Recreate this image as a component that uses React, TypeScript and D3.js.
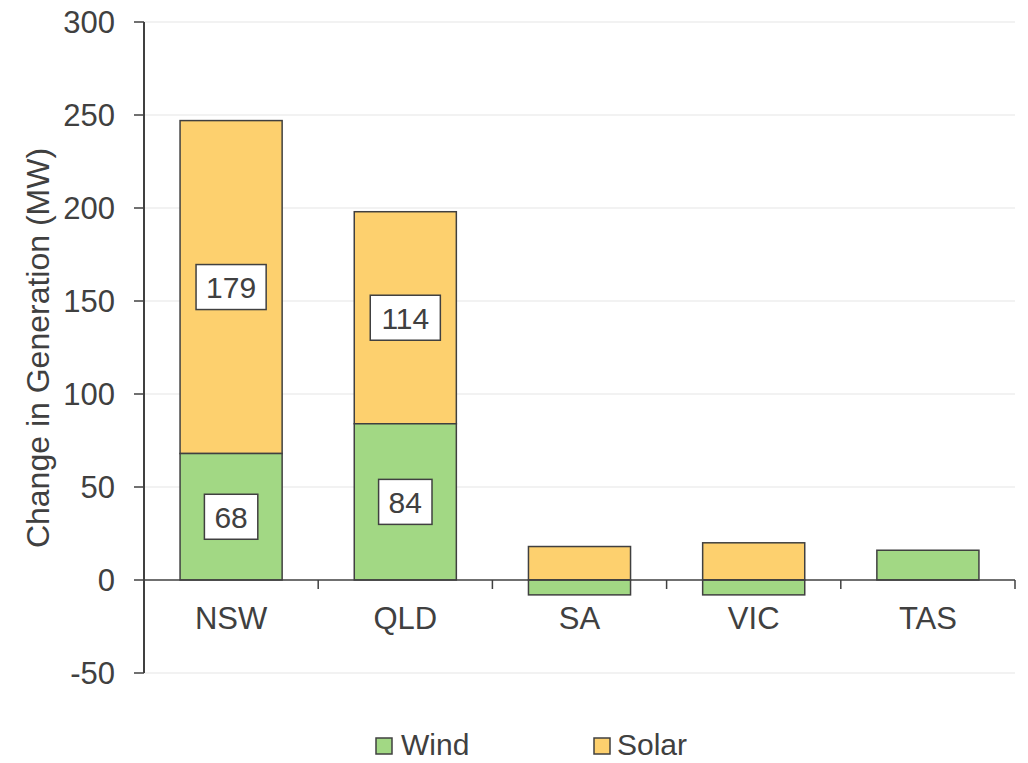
import React from "react";
import * as d3 from "d3";

const regions = ["NSW", "QLD", "SA", "VIC", "TAS"];
const windValues = [68, 84, -8, -8, 16];
const solarValues = [179, 114, 18, 20, 0];
const yTicks = [-50, 0, 50, 100, 150, 200, 250, 300];
const labelRegions = ["NSW", "QLD"];

const W = 1028;
const H = 763;
const textColor = "#404040";
const windColor = "#A2D884";
const solarColor = "#FDD06E";
const font = "Arial, 'Liberation Sans', sans-serif";

const ValueLabel = ({ x, y, value }) => {
  const str = String(value);
  const w = str.length * 16.7 + 20;
  return (
    <g>
      <rect x={x - w / 2} y={y - 22.5} width={w} height={45} fill="white" stroke={textColor} strokeWidth={1.5} />
      <text x={x} y={y} dy="0.36em" textAnchor="middle" fontSize={30} fill={textColor}>{str}</text>
    </g>
  );
};

const App = () => {
  const x = d3.scaleBand().domain(regions).range([144, 1015]).paddingInner(0.414).paddingOuter(0.207);
  const y = d3.scaleLinear().domain([-50, 300]).range([673, 22]);

  const bars = regions.map((r, i) => {
    const w = windValues[i];
    const s = solarValues[i];
    const windY0 = w >= 0 ? y(w) : y(0);
    const windH = Math.abs(y(w) - y(0));
    const solarBase = w > 0 ? w : 0;
    return { r, w, s, windY0, windH, solarBase };
  });

  return (
    <svg width={W} height={H} style={{ position: "absolute", left: 0, top: 0, fontFamily: font }}>
      <rect width={W} height={H} fill="white" />
      {yTicks.map(t => (
        <g key={t}>
          {t !== 0 && <line x1={144} x2={1015} y1={y(t)} y2={y(t)} stroke="#EEEEEE" strokeWidth={1.5} />}
          <line x1={134} x2={144} y1={y(t)} y2={y(t)} stroke={textColor} strokeWidth={1.5} />
          <text x={115} y={y(t)} dy="0.36em" textAnchor="end" fontSize={31} fill={textColor}>{t}</text>
        </g>
      ))}
      {bars.map(b => (
        <g key={b.r}>
          {b.s > 0 && (
            <rect x={x(b.r)} y={y(b.solarBase + b.s)} width={x.bandwidth()} height={y(b.solarBase) - y(b.solarBase + b.s)}
              fill={solarColor} stroke={textColor} strokeWidth={1.5} />
          )}
          <rect x={x(b.r)} y={b.windY0} width={x.bandwidth()} height={b.windH}
            fill={windColor} stroke={textColor} strokeWidth={1.5} />
        </g>
      ))}
      <line x1={144} x2={1015} y1={y(0)} y2={y(0)} stroke={textColor} strokeWidth={1.5} />
      {regions.map(r => (
        <g key={r}>
          <line x1={x(r) + x.bandwidth() + x.step() * 0.207} x2={x(r) + x.bandwidth() + x.step() * 0.207} y1={y(0)} y2={y(0) + 9}
            stroke={textColor} strokeWidth={1.5} />
          <text x={x(r) + x.bandwidth() / 2} y={629} textAnchor="middle" fontSize={31} fill={textColor}>{r}</text>
        </g>
      ))}
      <line x1={144} x2={144} y1={y(300)} y2={y(-50)} stroke={textColor} strokeWidth={2} />
      {bars.filter(b => labelRegions.includes(b.r)).map(b => (
        <g key={b.r}>
          <ValueLabel x={x(b.r) + x.bandwidth() / 2} y={(y(0) + y(b.w)) / 2} value={b.w} />
          <ValueLabel x={x(b.r) + x.bandwidth() / 2} y={(y(b.solarBase) + y(b.solarBase + b.s)) / 2} value={b.s} />
        </g>
      ))}
      <text transform={`translate(49, 348) rotate(-90)`} textAnchor="middle" fontSize={32} fill={textColor}>
        Change in Generation (MW)
      </text>
      <g>
        <rect x={376} y={738} width={16} height={16} fill={windColor} stroke={textColor} strokeWidth={1.5} />
        <text x={401} y={755} fontSize={30} fill={textColor}>Wind</text>
        <rect x={594} y={738} width={16} height={16} fill={solarColor} stroke={textColor} strokeWidth={1.5} />
        <text x={617} y={755} fontSize={30} fill={textColor}>Solar</text>
      </g>
    </svg>
  );
};

export default App;
